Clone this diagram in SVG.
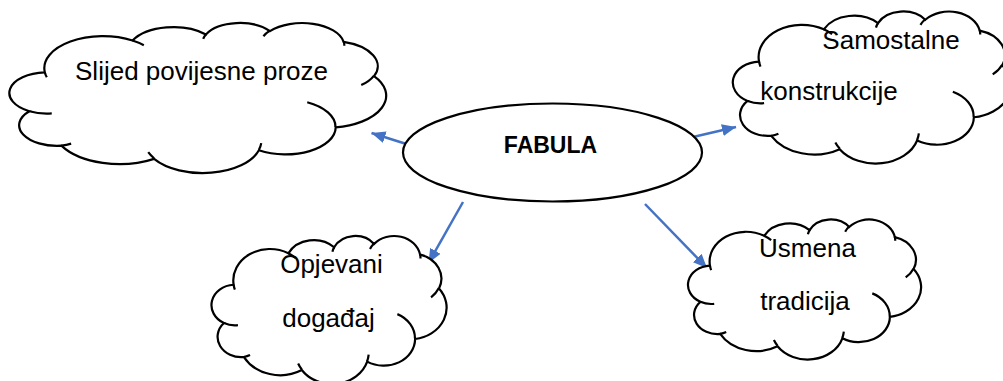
<svg xmlns="http://www.w3.org/2000/svg" xmlns:xlink="http://www.w3.org/1999/xlink" width="1003" height="381" viewBox="0 0 1003 381">
  <style>
    .cloud { fill: #ffffff; stroke: #000000; stroke-width: 2.2; }
    .inner { fill: none; stroke: #000000; stroke-width: 2.2; }
    .lbl { font-family: "Liberation Sans", Arial, sans-serif; font-size: 26px; fill: #000000; text-anchor: middle; }
    .main { font-family: "Liberation Sans", Arial, sans-serif; font-size: 23px; font-weight: bold; fill: #000000; text-anchor: middle; }
    .conn { stroke: #4472C4; stroke-width: 2.5; fill: none; marker-end: url(#arrow); }
  </style>
  <defs>
    <marker id="arrow" markerUnits="userSpaceOnUse" markerWidth="14" markerHeight="12" refX="14" refY="6" orient="auto">
      <path d="M0,0 L14,6 L0,12 Z" fill="#4472C4"/>
    </marker>
    <path id="cloudOuter" vector-effect="non-scaling-stroke" d="M39,143.7 A67.53,91.9 0 0 1 140.05,52.02 A53.33,72.67 0 0 1 224.56,34.32 A43.65,59.45 0 0 1 298.33,24.8 A48.57,65.95 0 0 1 383.18,55.75 A53.33,72.73 0 0 1 418.19,154.59 A67.75,92.2 0 0 1 374.05,302.03 A57.85,78.67 0 0 1 285.58,368.14 A67.52,92.15 0 0 1 164.83,392.67 A77.2,105.43 0 0 1 58.06,354.71 A43.6,59.18 0 0 1 21.13,255.52 A43.45,59.45 0 0 1 39,143.7 Z"/>
    <path id="cloudInner" vector-effect="non-scaling-stroke" d="M46.93,261.77 A43.45,59.45 0 0 1 21.13,255.52 M69.28,348.99 A43.6,59.18 0 0 1 58.06,354.71 M164.78,390.9 A67.52,92.15 0 0 1 158.09,373.48 M288.27,347.51 A67.52,92.15 0 0 1 285.6,366.6 M341.29,229.54 A57.85,78.67 0 0 1 373.8,300.9 M417.98,153.54 A53.33,72.73 0 0 1 403.49,180.31 M383.24,54.26 A48.57,65.95 0 0 1 384.0,66.9 M290.78,39.52 A48.57,65.95 0 0 1 298.2,23.4 M221.41,47.2 A43.65,59.45 0 0 1 225.0,33.31 M140,51.92 A67.53,91.9 0 0 1 153.01,65.42 M41.27,157.89 A67.53,91.9 0 0 1 39,143.7"/>
  </defs>

  <g id="connectors">
    <line class="conn" x1="408" y1="144.5" x2="371.5" y2="133"/>
    <line class="conn" x1="693" y1="137" x2="736" y2="127"/>
    <line class="conn" x1="463" y1="202" x2="428.5" y2="263"/>
    <line class="conn" x1="645" y1="204" x2="707" y2="268"/>
  </g>

  <g id="node-slijed">
    <g transform="translate(11,22.5) scale(0.86806,0.34722)">
      <use xlink:href="#cloudOuter" class="cloud"/>
      <use xlink:href="#cloudInner" class="inner"/>
    </g>
    <text class="lbl" x="201.5" y="80">Slijed povijesne proze</text>
  </g>

  <g id="node-samostalne">
    <g transform="translate(734,11) scale(0.6412,0.35185)">
      <use xlink:href="#cloudOuter" class="cloud"/>
      <use xlink:href="#cloudInner" class="inner"/>
    </g>
    <text class="lbl" x="891" y="49">Samostalne</text>
    <text class="lbl" x="829" y="100">konstrukcije</text>
  </g>

  <g id="node-opjevani">
    <g transform="translate(212.5,235.5) scale(0.54167,0.34259)">
      <use xlink:href="#cloudOuter" class="cloud"/>
      <use xlink:href="#cloudInner" class="inner"/>
    </g>
    <text class="lbl" x="331.5" y="273">Opjevani</text>
    <text class="lbl" x="328.5" y="327">događaj</text>
  </g>

  <g id="node-usmena">
    <g transform="translate(689,219) scale(0.53704,0.32407)">
      <use xlink:href="#cloudOuter" class="cloud"/>
      <use xlink:href="#cloudInner" class="inner"/>
    </g>
    <text class="lbl" x="807.5" y="257">Usmena</text>
    <text class="lbl" x="805" y="310">tradicija</text>
  </g>

  <g id="node-fabula">
    <ellipse cx="552.5" cy="152.5" rx="149.5" ry="49" fill="#ffffff" stroke="#000000" stroke-width="2.2"/>
    <text class="main" x="550.5" y="153">FABULA</text>
  </g>
</svg>
